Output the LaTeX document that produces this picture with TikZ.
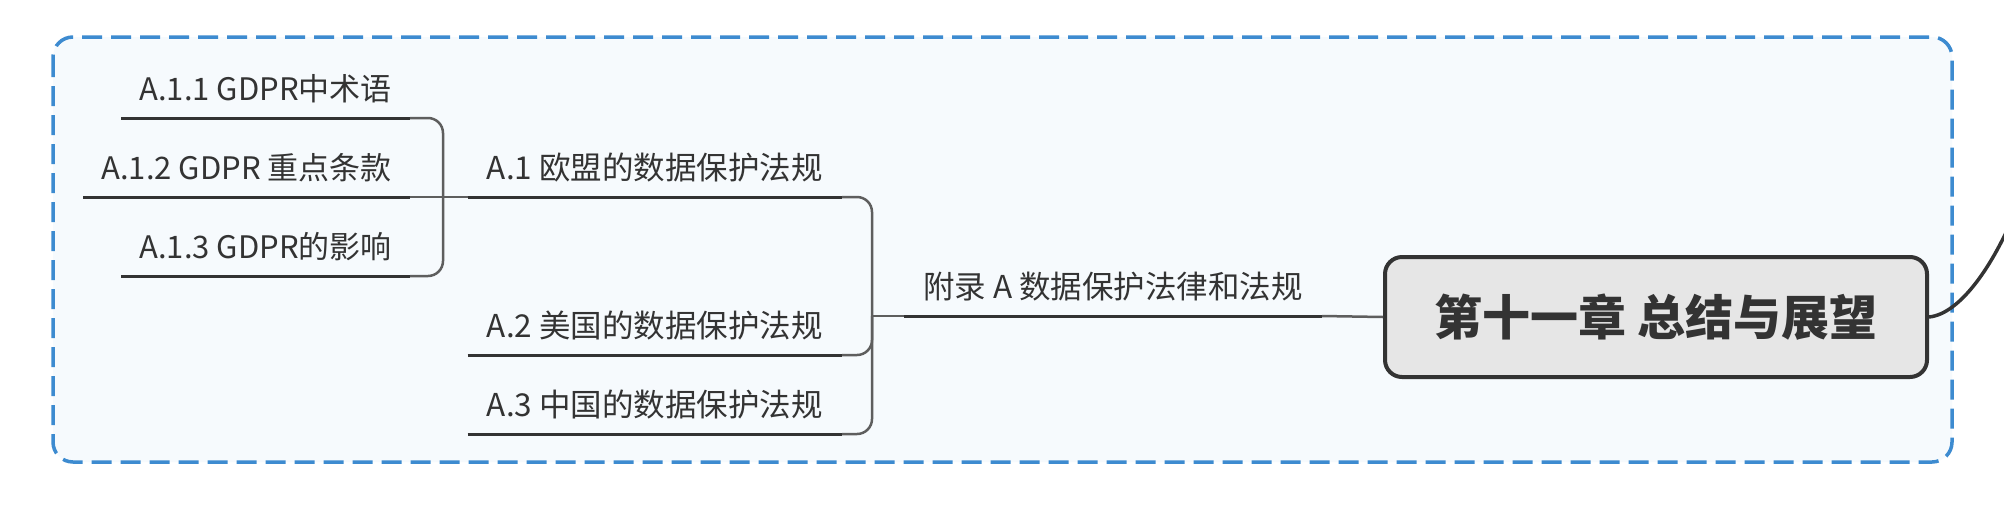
\documentclass[tikz,border=0pt]{standalone}
\usepackage{fontspec}
\setmainfont{Noto Sans CJK SC}
\definecolor{txt}{HTML}{333333}
\definecolor{uline}{HTML}{333333}
\definecolor{conn}{HTML}{5E5E5E}
\definecolor{boxblue}{HTML}{3D8BD0}
\definecolor{boxfill}{HTML}{F6FAFD}
\definecolor{rootfill}{HTML}{E6E6E6}
\begin{document}
\begin{tikzpicture}[x=1pt,y=-1pt,
  lvtwo/.style={font=\fontsize{31}{37}\selectfont, text=txt, inner xsep=18pt, inner ysep=0pt, text depth=17pt, anchor=south east},
  lvone/.style={font=\fontsize{31.5}{38}\selectfont, text=txt, inner xsep=19pt, inner ysep=0pt, text depth=17pt, anchor=south east},
  rootnode/.style={font=\fontsize{48}{56}\selectfont\bfseries, text=txt, draw=uline, line width=4pt, fill=rootfill, rounded corners=17pt, minimum width=542pt, minimum height=120pt, inner sep=0pt},
  underl/.style={draw=uline, line width=3pt},
  connline/.style={draw=conn, line width=2.5pt, rounded corners=15pt},
  groupbox/.style={draw=boxblue, fill=boxfill, line width=3.5pt, dash pattern=on 20pt off 9pt, rounded corners=20pt}
]
\useasboundingbox (0,0) rectangle (2004,504);
\clip (0,0) rectangle (2004,504);
\fill[white] (0,0) rectangle (2004,504);
% group boundary
\path[groupbox] (53,37) rectangle (1952,462);

% nodes
\node[rootnode] (root) at (1656,317) {第十一章 总结与展望};
\node[lvone] (top) at (1322,316) {附录 A 数据保护法律和法规};
\node[lvone] (a1) at (842,197) {A.1 欧盟的数据保护法规};
\node[lvone] (a2) at (842,355) {A.2 美国的数据保护法规};
\node[lvone] (a3) at (842,434) {A.3 中国的数据保护法规};
\node[lvtwo] (a11) at (410,118) {A.1.1 GDPR中术语};
\node[lvtwo] (a12) at (410,197) {A.1.2 GDPR 重点条款};
\node[lvtwo] (a13) at (410,276) {A.1.3 GDPR的影响};

\coordinate (b1) at (872,316);
\coordinate (s1) at (443,197);
\coordinate (outend) at (2020,200);

% connectors
\draw[connline] (root.west) -- (top.south east);
\draw[connline] (top.south west) -- (b1);
\draw[connline] (b1) |- (a1.south east);
\draw[connline] (b1) |- (a2.south east);
\draw[connline] (b1) |- (a3.south east);
\draw[connline] (a1.south west) -- (s1);
\draw[connline] (s1) |- (a11.south east);
\draw[connline] (s1) -- (a12.south east);
\draw[connline] (s1) |- (a13.south east);

% underlines
\foreach \n in {top,a1,a2,a3,a11,a12,a13}
  \draw[underl] (\n.south west) -- (\n.south east);

% outgoing curve
\draw[draw=uline, line width=3.5pt] (root.east) .. controls (1960,314) and (1995,265) .. (outend);
\end{tikzpicture}
\end{document}
